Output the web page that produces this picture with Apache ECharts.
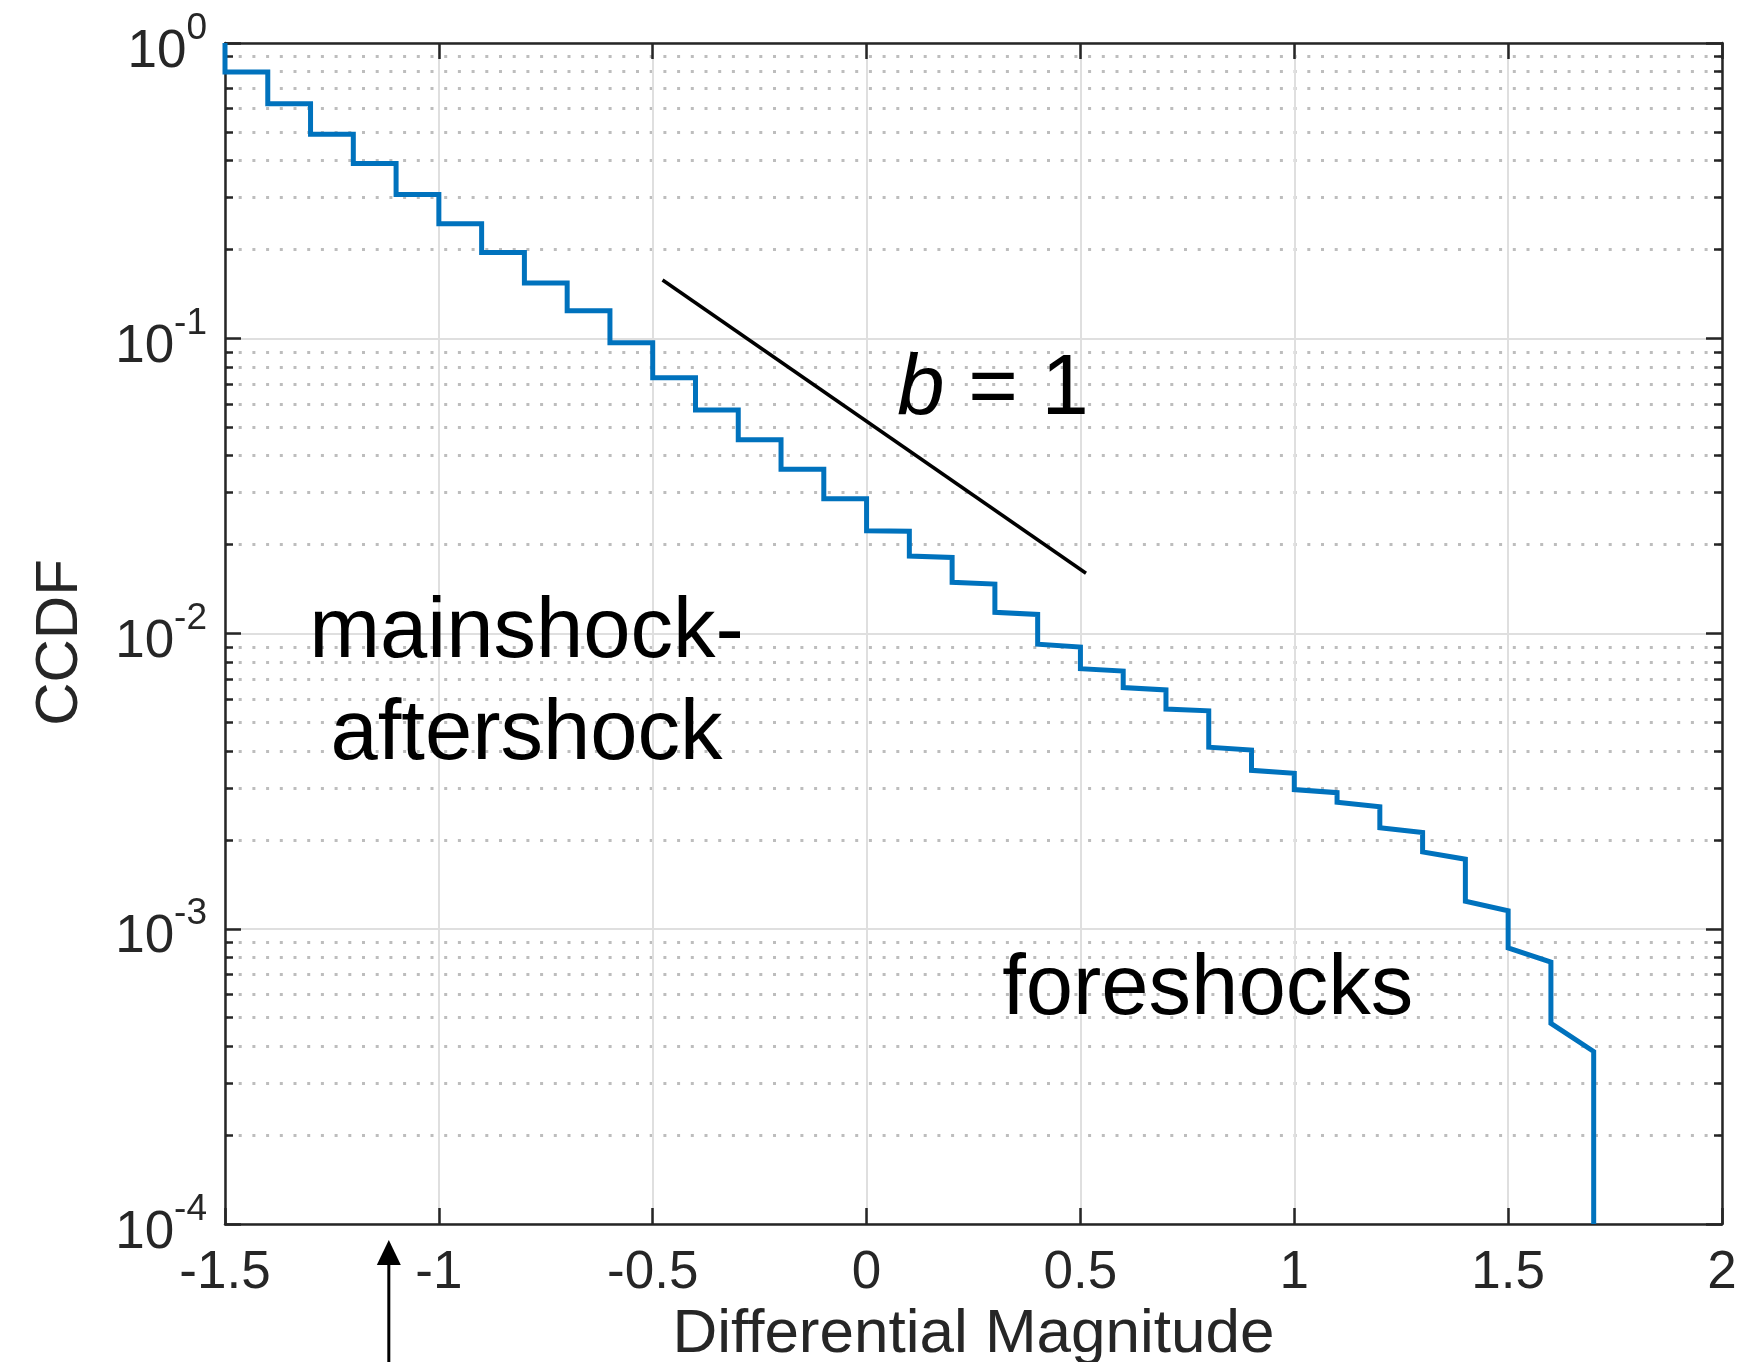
<!DOCTYPE html>
<html><head><meta charset="utf-8">
<script src="https://cdn.jsdelivr.net/npm/echarts@6/dist/echarts.min.js"></script>
<style>html,body{margin:0;padding:0;background:#fff}#c{width:1740px;height:1362px}</style>
</head><body><div id="c"></div>
<script>
// ---- data ----
const stepEdges = [-1.5,-1.4,-1.3,-1.2,-1.1,-1.0,-0.9,-0.8,-0.7,-0.6,-0.5,-0.4,-0.3,-0.2,-0.1,0.0,
                   0.1,0.2,0.3,0.4,0.5,0.6,0.7,0.8,0.9,1.0,1.1,1.2,1.3,1.4,1.5,1.6,1.7];
const levelStart = [0.798,0.623,0.491,0.391,0.307,0.244,0.195,0.154,0.124,0.0966,0.0735,0.0571,0.0453,0.0360,0.0286,0.0223,
                    0.0183,0.0149,0.0118,0.0092,0.0076,0.00656,0.00555,0.00412,0.00344,0.00296,0.00268,0.00220,0.00182,0.00124,0.000861,0.000478];
const levelEnd   = [0.798,0.623,0.491,0.391,0.307,0.244,0.195,0.154,0.124,0.0966,0.0735,0.0571,0.0453,0.0360,0.0286,0.0222,
                    0.0181,0.0147,0.0116,0.0090,0.00746,0.00644,0.00547,0.00403,0.00336,0.00289,0.00259,0.00212,0.00172,0.00115,0.000771,0.000384];
const topValue = 1;
const bottomValue = 1e-4;
const slopeLineX = [-0.477, 0.513];
const slopeLineY = [0.1575, 0.0160];
const xTicks = [-1.5, -1, -0.5, 0, 0.5, 1, 1.5, 2];
const yTickExponents = [-4, -3, -2, -1, 0];
const arrowX = -1.117;
// annotation anchors (data coords of text baseline)
const labelB = {x: 0.072, y: 0.0550};
const labelMain = {x: -0.795, y: 0.00827};
const labelFore = {x: 0.317, y: 0.000511};

// ---- build step line ----
const stepData = [[stepEdges[0], topValue]];
for (let i = 0; i < levelStart.length; i++) {
  stepData.push([stepEdges[i], levelStart[i]]);
  stepData.push([stepEdges[i + 1], levelEnd[i]]);
}
stepData.push([stepEdges[stepEdges.length - 1], bottomValue]);
const slopeData = slopeLineX.map((x, i) => [x, slopeLineY[i]]);

const FF = "'Liberation Sans', Arial, Helvetica, sans-serif";
const AX = '#262626';

// ---- text metric helpers (relative to canvas 'middle' baseline) ----
const mctx = document.createElement('canvas').getContext('2d');
function met(text, size, style) {
  mctx.font = (style ? style + ' ' : '') + size + 'px ' + FF;
  mctx.textBaseline = 'middle';
  const m = mctx.measureText(text);
  return {asc: m.actualBoundingBoxAscent, desc: m.actualBoundingBoxDescent,
          center: (m.actualBoundingBoxDescent - m.actualBoundingBoxAscent) / 2};
}

const GRID_TOP = 43, GRID_BOTTOM_PX = 1224;
const TICK_FS = 53, EXP_FS = 37, NAME_FS = 62, ANN_FS = 85;

// x tick labels: digit centre ~45px below the axis
const offX = met('0123456789', TICK_FS).center;
const xLabelMargin = 45 - TICK_FS / 2 - offX;
// x axis name: cap centre ~106px below axis
const offName = met('D', NAME_FS).center;
const xNameGap = 106 - NAME_FS / 2 - offName;
// y tick labels: base digits centre +5 from tick, exponent centre -17.5 from tick
const offB = met('10', TICK_FS).center;
const offE = met('0', EXP_FS).center;
const hE = EXP_FS;
const RAISE = 22.5, EXP_TARGET = -17.5;
const L = TICK_FS / 2 + hE / 2 + RAISE - offB + offE;
const dShift = L / 2 + EXP_TARGET - hE / 2 - offE;   // (padTop - padBottom)/2
const padT = dShift > 0 ? 2 * dShift : 0, padB = dShift < 0 ? -2 * dShift : 0;
// annotation baseline offsets
const annDesc = met('H', ANN_FS).desc;

const chart = echarts.init(document.getElementById('c'), null, {renderer: 'canvas'});
const xMin = xTicks[0], xMax = xTicks[xTicks.length - 1];
const yMin = Math.pow(10, yTickExponents[0]), yMax = Math.pow(10, yTickExponents[yTickExponents.length - 1]);

chart.setOption({
  animation: false,
  backgroundColor: '#fff',
  grid: {left: 225, right: 18, top: GRID_TOP, bottom: 1362 - GRID_BOTTOM_PX, containLabel: false, outerBoundsMode: 'none'},
  xAxis: [{
    type: 'value', min: xMin, max: xMax, interval: 0.5,
    axisLine: {onZero: false, lineStyle: {color: AX, width: 2.5}},
    axisTick: {inside: true, length: 16, lineStyle: {color: AX, width: 2.5}},
    axisLabel: {margin: xLabelMargin, fontSize: TICK_FS, fontFamily: FF, color: AX,
      formatter: v => { const t = xTicks.find(t => Math.abs(t - v) < 1e-9); return t === undefined ? '' : String(t); }},
    splitLine: {show: true, lineStyle: {color: '#dfdfdf', width: 2}},
    name: 'Differential Magnitude', nameLocation: 'middle', nameGap: xNameGap,
    nameTextStyle: {fontSize: NAME_FS, fontFamily: FF, color: AX}
  }, {
    type: 'value', position: 'top', min: xMin, max: xMax, interval: 0.5,
    axisLine: {onZero: false, lineStyle: {color: AX, width: 2.5}},
    axisTick: {inside: true, length: 16, lineStyle: {color: AX, width: 2.5}},
    axisLabel: {show: false}, splitLine: {show: false}
  }],
  yAxis: [{
    type: 'log', logBase: 10, min: yMin, max: yMax, splitNumber: 4,
    axisLine: {onZero: false, lineStyle: {color: AX, width: 2.5}},
    axisTick: {inside: true, length: 16, lineStyle: {color: AX, width: 2.5}},
    minorTick: {show: true, splitNumber: 9, length: 8, lineStyle: {color: AX, width: 2.5}},
    splitLine: {show: true, lineStyle: {color: '#dfdfdf', width: 2}},
    minorSplitLine: {show: true, lineStyle: {color: '#bdbdbd', width: 3, type: [3, 10.7]}},
    axisLabel: {
      margin: 18,
      padding: [padT, 0, padB, 0],
      formatter: v => '{b|10}{e|' + Math.round(Math.log10(v)) + '}',
      rich: {
        b: {fontSize: TICK_FS, fontFamily: FF, color: AX, verticalAlign: 'bottom', lineHeight: L},
        e: {fontSize: EXP_FS, fontFamily: FF, color: AX, verticalAlign: 'top', lineHeight: hE}
      }
    },
    name: 'CCDF', nameLocation: 'middle', nameGap: 135,
    nameTextStyle: {fontSize: 60, fontFamily: FF, color: AX, padding: [0, 18, 0, 0]}
  }, {
    type: 'log', logBase: 10, min: yMin, max: yMax, splitNumber: 4, position: 'right',
    axisLine: {onZero: false, lineStyle: {color: AX, width: 2.5}},
    axisTick: {inside: true, length: 16, lineStyle: {color: AX, width: 2.5}},
    minorTick: {show: true, splitNumber: 9, length: 8, lineStyle: {color: AX, width: 2.5}},
    axisLabel: {show: false}, splitLine: {show: false}
  }],
  series: [{
    type: 'line', data: stepData, xAxisIndex: 0, yAxisIndex: 0,
    showSymbol: false, symbol: 'none', z: 5,
    lineStyle: {color: '#0072BD', width: 5, join: 'miter'}
  }, {
    type: 'line', data: slopeData, xAxisIndex: 0, yAxisIndex: 0,
    showSymbol: false, symbol: 'none', z: 5,
    lineStyle: {color: '#000', width: 3.5}
  }]
});

function px(p) { return chart.convertToPixel({xAxisIndex: 0, yAxisIndex: 0}, [p.x, p.y]); }
const pB = px(labelB), pM = px(labelMain), pF = px(labelFore);
const ax = chart.convertToPixel({xAxisIndex: 0}, arrowX);
const gridBottom = chart.convertToPixel({yAxisIndex: 0}, yMin);
const tipY = gridBottom + 16;
const LINE_H = 102;
chart.setOption({
  graphic: [
    {type: 'text', x: pB[0], y: pB[1] - annDesc, z: 10,
     style: {text: '{i|b} = 1', fill: '#000', fontSize: ANN_FS, fontFamily: FF, align: 'left', verticalAlign: 'middle',
       rich: {i: {fontStyle: 'italic', fontSize: ANN_FS, fontFamily: FF, fill: '#000'}}}},
    {type: 'text', x: pM[0], y: pM[1] - annDesc + LINE_H / 2, z: 10,
     style: {text: 'mainshock-\naftershock', fill: '#000', fontSize: ANN_FS, fontFamily: FF, align: 'center',
       verticalAlign: 'middle', lineHeight: LINE_H}},
    {type: 'text', x: pF[0], y: pF[1] - annDesc, z: 10,
     style: {text: 'foreshocks', fill: '#000', fontSize: ANN_FS, fontFamily: FF, align: 'left', verticalAlign: 'middle'}},
    {type: 'line', z: 10, shape: {x1: ax, y1: 1362, x2: ax, y2: tipY + 20}, style: {stroke: '#000', lineWidth: 3}},
    {type: 'polygon', z: 10, shape: {points: [[ax, tipY], [ax - 12, tipY + 25], [ax + 12, tipY + 25]]}, style: {fill: '#000'}}
  ]
});
</script></body></html>
